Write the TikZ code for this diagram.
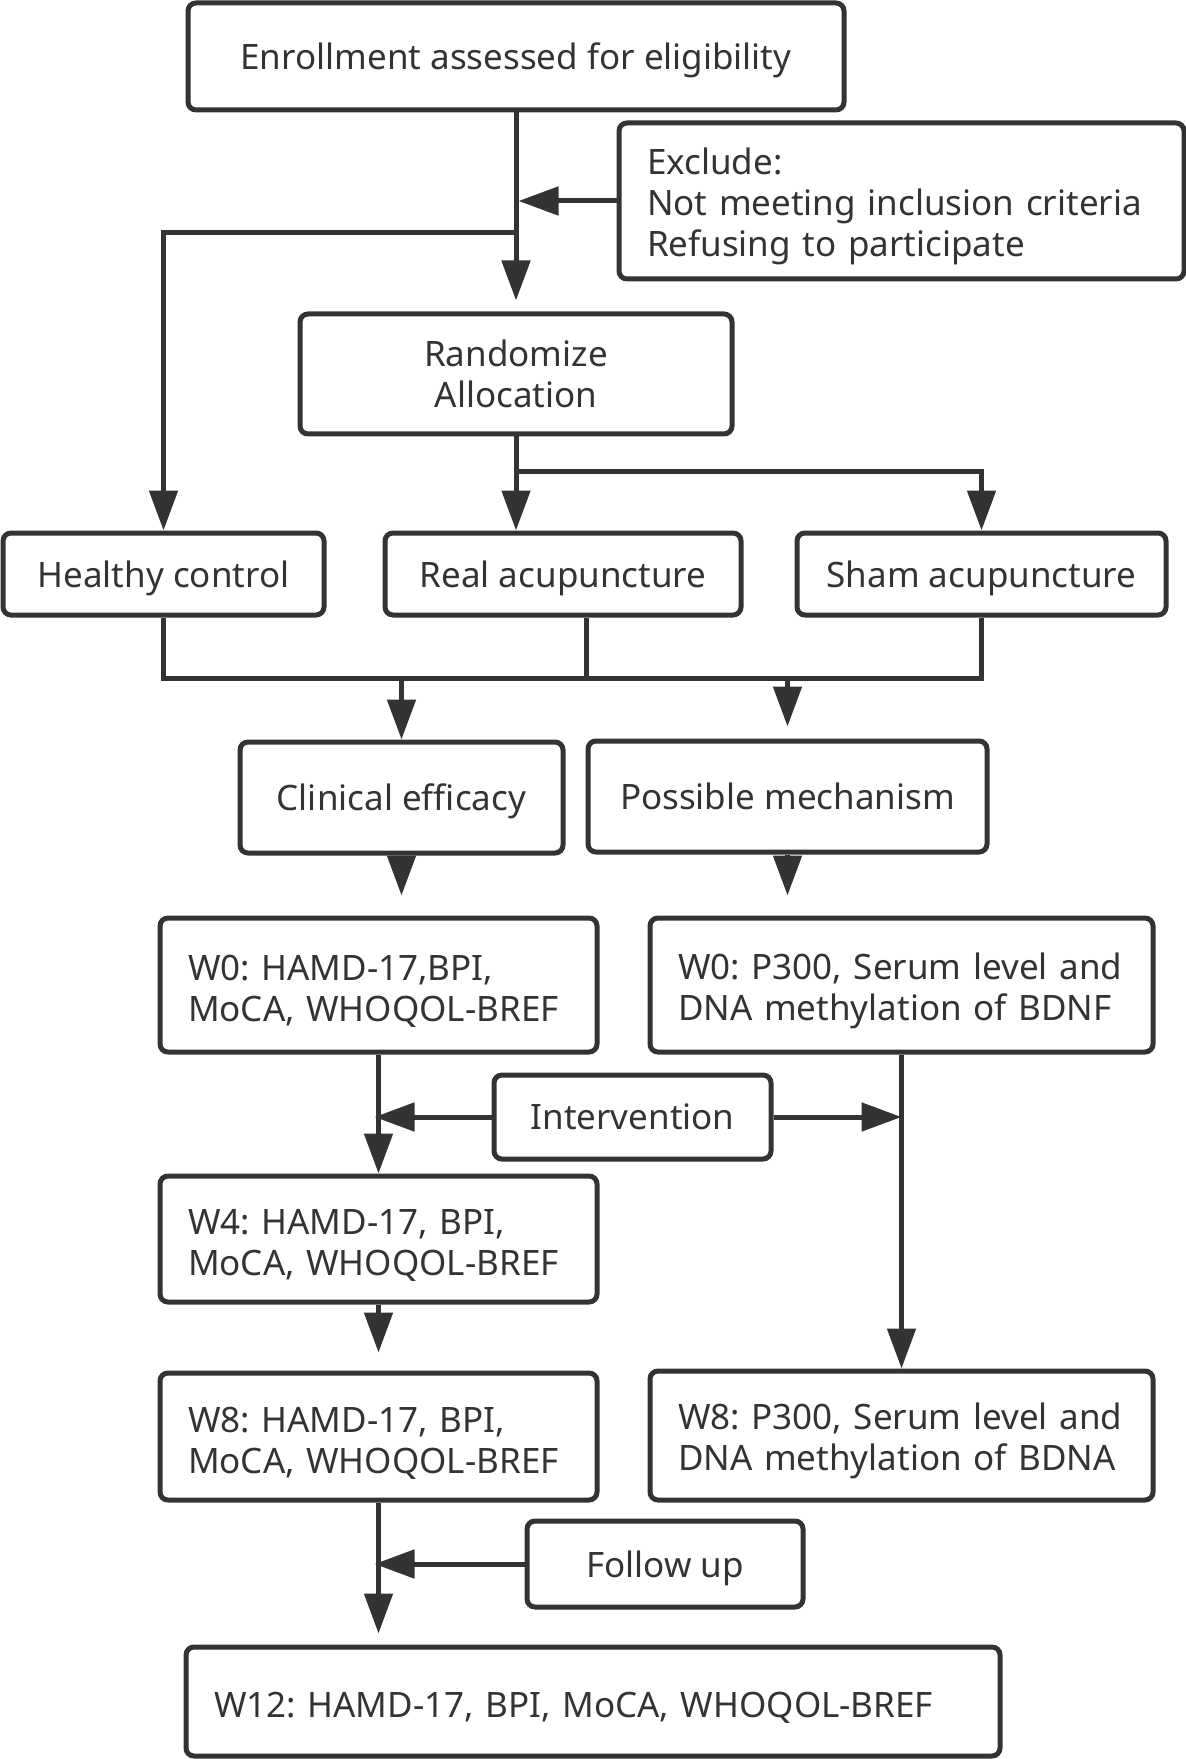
\documentclass[tikz,border=0pt]{standalone}
\usepackage{fontspec}
\setmainfont{Noto Sans}
\usepackage{tikz}
\usetikzlibrary{arrows.meta,calc}
\definecolor{ink}{HTML}{333333}

\begin{document}
\begin{tikzpicture}
    [x=0.5pt, y=-0.5pt,
    box/.style 2 args={draw=ink, text=ink, line width=2.5pt, rounded corners=4pt,
      inner sep=0pt, align=center, minimum width=#1, minimum height=#2, text depth=0pt,
      font=\fontsize{17.5}{20.5}\selectfont\frenchspacing},
    lbox/.style 2 args={draw=ink, text=ink, line width=2.5pt, rounded corners=4pt,
      inner xsep=14pt, inner ysep=0pt, align=left, text width=#1, minimum height=#2,
      text height=19pt, font=\fontsize{17.5}{20.5}\selectfont\frenchspacing},
    line/.style={draw=ink, line width=2.5pt},
    arr/.style={line, -{Triangle[length=20pt,width=14pt]}}]
  \useasboundingbox (0,0) rectangle (1186,1759);

  \node [box={328pt}{53.5pt}] (enroll) at (516,56.5) {Enrollment assessed for eligibility};
  \node [lbox={254.5pt}{78pt}] (exclude) at (901.5,201) {Exclude:\\
    Not meeting inclusion criteria\\ Refusing to participate};
  \node [box={216pt}{60pt}] (random) at (516,374) {Randomize\\ Allocation};
  \node [box={160.5pt}{41pt}] (healthy) at (163.5,574) {Healthy control};
  \node [box={178pt}{41pt}] (real) at (563,574) {Real acupuncture};
  \node [box={184.5pt}{41pt}] (sham) at (981.5,574) {Sham acupuncture};
  \node [box={161.5pt}{55.5pt}] (clinical) at (401.5,797.5) {Clinical efficacy};
  \node [box={199.5pt}{55.5pt}] (mech) at (787.5,796.5) {Possible mechanism};
  \node [lbox={190.5pt}{67pt}] (w0a) at (378.5,985) {W0: HAMD-17,BPI,\\ MoCA, WHOQOL-BREF};
  \node [lbox={223.5pt}{67pt}] (w0b) at (901.5,985) {W0: P300, Serum level and\\
    DNA methylation of BDNF};
  \node [box={138.5pt}{42pt}] (interv) at (632.5,1117) {Intervention};
  \node [lbox={190.5pt}{63pt}] (w4) at (378.5,1239) {W4: HAMD-17, BPI,\\ MoCA, WHOQOL-BREF};
  \node [lbox={190.5pt}{63.5pt}] (w8a) at (378.5,1436.5) {W8: HAMD-17, BPI,\\ MoCA, WHOQOL-BREF};
  \node [lbox={223.5pt}{64.5pt}] (w8b) at (901.5,1435.5) {W8: P300, Serum level and\\
    DNA methylation of BDNA};
  \node [box={138pt}{43pt}] (follow) at (665,1564) {Follow up};
  \node [lbox={379pt}{54.5pt}] (w12) at (593,1701.5) {W12: HAMD-17, BPI, MoCA, WHOQOL-BREF};

  \coordinate (hsplit) at (516,233);
  \coordinate (rsplit) at (516,471);
  \coordinate (merge) at (0,678);

  \draw [arr, shorten >=5.5pt] (enroll) -- (random);
  \draw [arr] (exclude.west) -- ++(-98,0);
  \draw [arr] (hsplit) -| (healthy.north);
  \draw [line] (random) -- (rsplit);
  \draw [arr] (rsplit) -- (rsplit |- real.north);
  \draw [arr] (rsplit) -| (sham.north);

  \draw [line] (healthy.south) -- (healthy.south |- merge) -| (sham.south);
  \draw [line] ([xshift=11.5pt]real.south) -- ([xshift=11.5pt]real.south |- merge);
  \draw [arr] (clinical.north |- merge) -- (clinical);
  \draw [arr, shorten >=6pt] (mech.north |- merge) -- (mech);

  \draw [arr, shorten >=10pt] (clinical) -- (clinical.south |- w0a.north);
  \draw [arr, shorten >=10pt] (mech) -- (mech.south |- w0b.north);
  \draw [arr] (w0a) -- (w4);
  \draw [arr, shorten >=-2pt] (interv) -- (interv.west -| w0a.south);
  \draw [arr] (interv) -- (interv.east -| w0b.south);
  \draw [arr] (w0b) -- (w8b);
  \draw [arr, shorten >=9pt] (w4) -- (w8a);
  \draw [arr, shorten >=5.5pt] (w8a) -- (w8a.south |- w12.north);
  \draw [arr, shorten >=-2pt] (follow) -- (follow.west -| w8a.south);
\end{tikzpicture}
\end{document}
